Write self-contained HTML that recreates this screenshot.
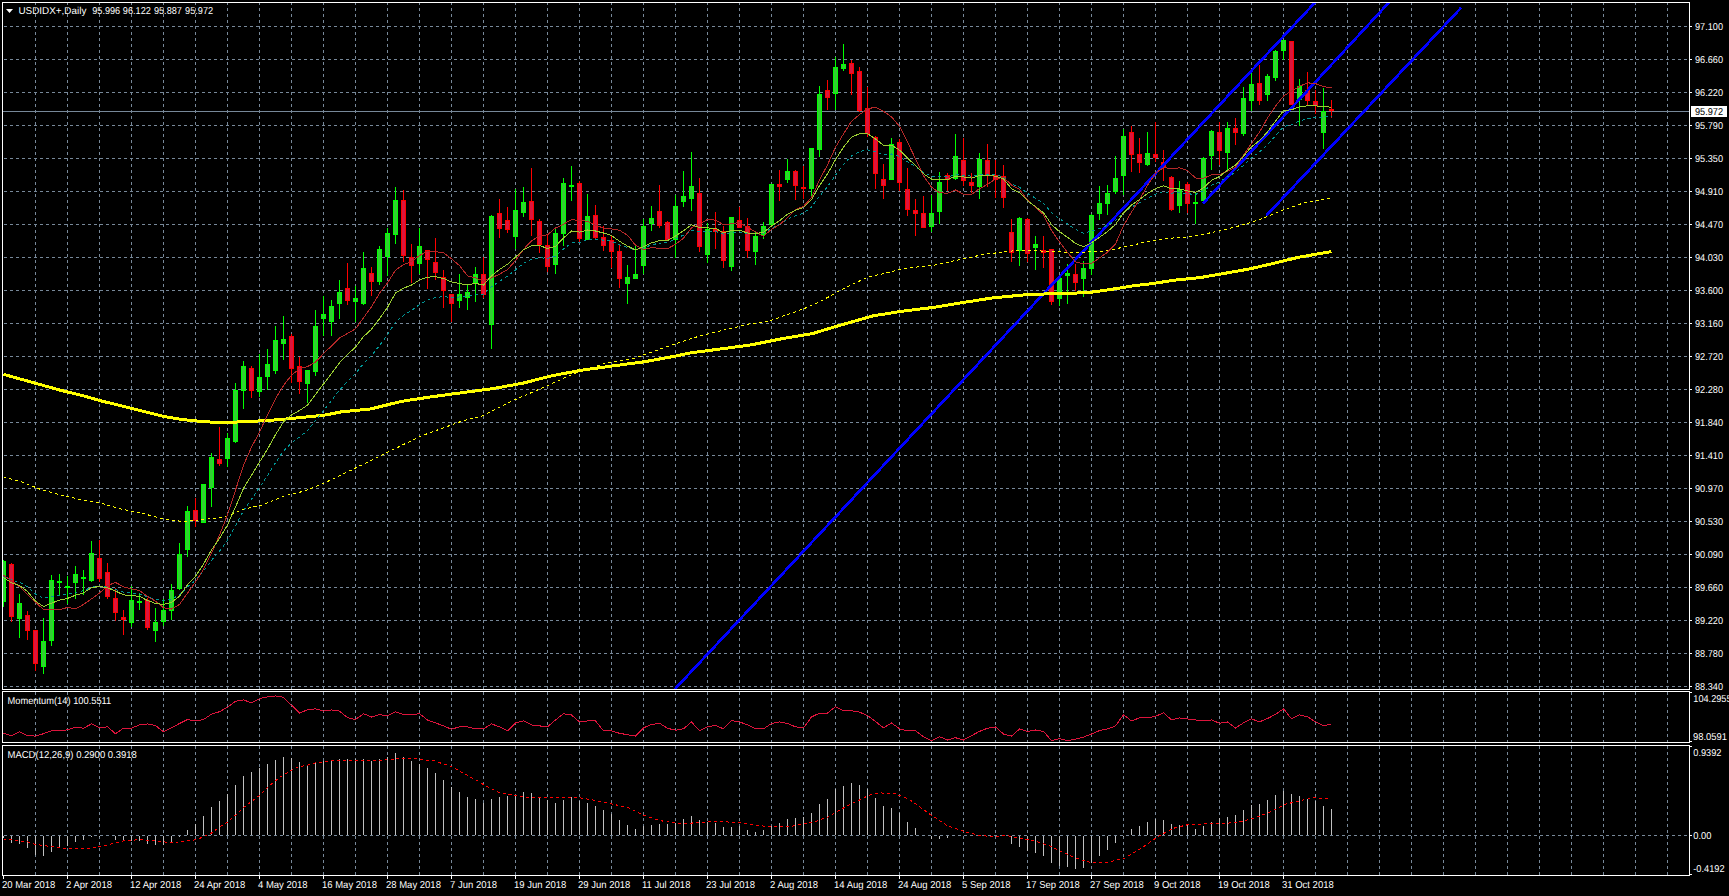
<!DOCTYPE html><html><head><meta charset="utf-8"><style>html,body{margin:0;padding:0;background:#000;width:1729px;height:896px;overflow:hidden}</style></head><body><svg width="1729" height="896" viewBox="0 0 1729 896" style="display:block">
<rect x="0" y="0" width="1729" height="896" fill="#000"/>
<path d="M4,26.5H1689 M4,59.5H1689 M4,92.5H1689 M4,125.5H1689 M4,158.5H1689 M4,191.5H1689 M4,224.5H1689 M4,257.5H1689 M4,290.5H1689 M4,323.5H1689 M4,356.5H1689 M4,389.5H1689 M4,422.5H1689 M4,455.5H1689 M4,488.5H1689 M4,521.5H1689 M4,554.5H1689 M4,587.5H1689 M4,620.5H1689 M4,653.5H1689 M4,686.5H1689 M35.5,2V689 M35.5,692V742 M35.5,746V875 M67.5,2V689 M67.5,692V742 M67.5,746V875 M99.5,2V689 M99.5,692V742 M99.5,746V875 M131.5,2V689 M131.5,692V742 M131.5,746V875 M163.5,2V689 M163.5,692V742 M163.5,746V875 M195.5,2V689 M195.5,692V742 M195.5,746V875 M227.5,2V689 M227.5,692V742 M227.5,746V875 M259.5,2V689 M259.5,692V742 M259.5,746V875 M291.5,2V689 M291.5,692V742 M291.5,746V875 M323.5,2V689 M323.5,692V742 M323.5,746V875 M355.5,2V689 M355.5,692V742 M355.5,746V875 M387.5,2V689 M387.5,692V742 M387.5,746V875 M419.5,2V689 M419.5,692V742 M419.5,746V875 M451.5,2V689 M451.5,692V742 M451.5,746V875 M483.5,2V689 M483.5,692V742 M483.5,746V875 M515.5,2V689 M515.5,692V742 M515.5,746V875 M547.5,2V689 M547.5,692V742 M547.5,746V875 M579.5,2V689 M579.5,692V742 M579.5,746V875 M611.5,2V689 M611.5,692V742 M611.5,746V875 M643.5,2V689 M643.5,692V742 M643.5,746V875 M675.5,2V689 M675.5,692V742 M675.5,746V875 M707.5,2V689 M707.5,692V742 M707.5,746V875 M739.5,2V689 M739.5,692V742 M739.5,746V875 M771.5,2V689 M771.5,692V742 M771.5,746V875 M803.5,2V689 M803.5,692V742 M803.5,746V875 M835.5,2V689 M835.5,692V742 M835.5,746V875 M867.5,2V689 M867.5,692V742 M867.5,746V875 M899.5,2V689 M899.5,692V742 M899.5,746V875 M931.5,2V689 M931.5,692V742 M931.5,746V875 M963.5,2V689 M963.5,692V742 M963.5,746V875 M995.5,2V689 M995.5,692V742 M995.5,746V875 M1027.5,2V689 M1027.5,692V742 M1027.5,746V875 M1059.5,2V689 M1059.5,692V742 M1059.5,746V875 M1091.5,2V689 M1091.5,692V742 M1091.5,746V875 M1123.5,2V689 M1123.5,692V742 M1123.5,746V875 M1155.5,2V689 M1155.5,692V742 M1155.5,746V875 M1187.5,2V689 M1187.5,692V742 M1187.5,746V875 M1219.5,2V689 M1219.5,692V742 M1219.5,746V875 M1251.5,2V689 M1251.5,692V742 M1251.5,746V875 M1283.5,2V689 M1283.5,692V742 M1283.5,746V875 M1315.5,2V689 M1315.5,692V742 M1315.5,746V875 M1347.5,2V689 M1347.5,692V742 M1347.5,746V875 M1379.5,2V689 M1379.5,692V742 M1379.5,746V875 M1411.5,2V689 M1411.5,692V742 M1411.5,746V875 M1443.5,2V689 M1443.5,692V742 M1443.5,746V875 M1475.5,2V689 M1475.5,692V742 M1475.5,746V875 M1507.5,2V689 M1507.5,692V742 M1507.5,746V875 M1539.5,2V689 M1539.5,692V742 M1539.5,746V875 M1571.5,2V689 M1571.5,692V742 M1571.5,746V875 M1603.5,2V689 M1603.5,692V742 M1603.5,746V875 M1635.5,2V689 M1635.5,692V742 M1635.5,746V875 M1667.5,2V689 M1667.5,692V742 M1667.5,746V875 M4,835.5H1689" stroke="#778899" stroke-width="1" stroke-dasharray="3 3" fill="none" shape-rendering="crispEdges"/>
<path d="M3,111.5H1689" stroke="#778899" stroke-width="1" shape-rendering="crispEdges"/>
<g clip-path="url(#clipmain)" shape-rendering="crispEdges" stroke-width="1"><path d="M3.5,560V607" stroke="#00ff00"/><rect x="1.5" y="561.5" width="4" height="40" fill="#32cd32" stroke="#00ff00"/><path d="M11.5,563V622" stroke="#ff0000"/><rect x="9.5" y="564.5" width="4" height="52" fill="#dc143c" stroke="#ff0000"/><path d="M19.5,594V638" stroke="#00ff00"/><rect x="17.5" y="603.5" width="4" height="15" fill="#32cd32" stroke="#00ff00"/><path d="M27.5,611V640" stroke="#ff0000"/><rect x="25.5" y="615.5" width="4" height="15" fill="#dc143c" stroke="#ff0000"/><path d="M35.5,630V671" stroke="#ff0000"/><rect x="33.5" y="630.5" width="4" height="33" fill="#dc143c" stroke="#ff0000"/><path d="M43.5,618V674" stroke="#00ff00"/><rect x="41.5" y="641.5" width="4" height="25" fill="#32cd32" stroke="#00ff00"/><path d="M51.5,575V646" stroke="#00ff00"/><rect x="49.5" y="580.5" width="4" height="60" fill="#32cd32" stroke="#00ff00"/><path d="M59.5,574V595" stroke="#00ff00"/><rect x="57" y="581" width="5" height="2" fill="#00ff00"/><path d="M67.5,576V604" stroke="#00ff00"/><rect x="65" y="586" width="5" height="2" fill="#00ff00"/><path d="M75.5,566V599" stroke="#00ff00"/><rect x="73.5" y="574.5" width="4" height="8" fill="#32cd32" stroke="#00ff00"/><path d="M83.5,570V595" stroke="#00ff00"/><rect x="81" y="577" width="5" height="2" fill="#00ff00"/><path d="M91.5,541V582" stroke="#00ff00"/><rect x="89.5" y="553.5" width="4" height="27" fill="#32cd32" stroke="#00ff00"/><path d="M99.5,540V582" stroke="#ff0000"/><rect x="97.5" y="558.5" width="4" height="20" fill="#dc143c" stroke="#ff0000"/><path d="M107.5,563V599" stroke="#ff0000"/><rect x="105.5" y="572.5" width="4" height="24" fill="#dc143c" stroke="#ff0000"/><path d="M115.5,588V621" stroke="#ff0000"/><rect x="113.5" y="598.5" width="4" height="14" fill="#dc143c" stroke="#ff0000"/><path d="M123.5,610V635" stroke="#ff0000"/><rect x="121.5" y="617.5" width="4" height="2" fill="#dc143c" stroke="#ff0000"/><path d="M131.5,586V627" stroke="#00ff00"/><rect x="129.5" y="600.5" width="4" height="22" fill="#32cd32" stroke="#00ff00"/><path d="M139.5,594V610" stroke="#00ff00"/><rect x="137" y="601" width="5" height="2" fill="#00ff00"/><path d="M147.5,598V630" stroke="#ff0000"/><rect x="145.5" y="600.5" width="4" height="27" fill="#dc143c" stroke="#ff0000"/><path d="M155.5,608V642" stroke="#00ff00"/><rect x="153.5" y="622.5" width="4" height="8" fill="#32cd32" stroke="#00ff00"/><path d="M163.5,599V626" stroke="#00ff00"/><rect x="161.5" y="610.5" width="4" height="11" fill="#32cd32" stroke="#00ff00"/><path d="M171.5,584V620" stroke="#00ff00"/><rect x="169.5" y="590.5" width="4" height="20" fill="#32cd32" stroke="#00ff00"/><path d="M179.5,543V590" stroke="#00ff00"/><rect x="177.5" y="554.5" width="4" height="34" fill="#32cd32" stroke="#00ff00"/><path d="M187.5,506V557" stroke="#00ff00"/><rect x="185.5" y="511.5" width="4" height="38" fill="#32cd32" stroke="#00ff00"/><path d="M195.5,498V527" stroke="#ff0000"/><rect x="193.5" y="510.5" width="4" height="10" fill="#dc143c" stroke="#ff0000"/><path d="M203.5,484V523" stroke="#00ff00"/><rect x="201.5" y="484.5" width="4" height="38" fill="#32cd32" stroke="#00ff00"/><path d="M211.5,453V507" stroke="#00ff00"/><rect x="209.5" y="457.5" width="4" height="30" fill="#32cd32" stroke="#00ff00"/><path d="M219.5,427V466" stroke="#ff0000"/><rect x="217.5" y="459.5" width="4" height="4" fill="#dc143c" stroke="#ff0000"/><path d="M227.5,433V467" stroke="#00ff00"/><rect x="225.5" y="438.5" width="4" height="20" fill="#32cd32" stroke="#00ff00"/><path d="M235.5,383V443" stroke="#00ff00"/><rect x="233.5" y="390.5" width="4" height="51" fill="#32cd32" stroke="#00ff00"/><path d="M243.5,361V409" stroke="#00ff00"/><rect x="241.5" y="366.5" width="4" height="24" fill="#32cd32" stroke="#00ff00"/><path d="M251.5,366V398" stroke="#ff0000"/><rect x="249.5" y="368.5" width="4" height="22" fill="#dc143c" stroke="#ff0000"/><path d="M259.5,354V397" stroke="#00ff00"/><rect x="257.5" y="377.5" width="4" height="14" fill="#32cd32" stroke="#00ff00"/><path d="M267.5,349V390" stroke="#00ff00"/><rect x="265.5" y="364.5" width="4" height="12" fill="#32cd32" stroke="#00ff00"/><path d="M275.5,326V374" stroke="#00ff00"/><rect x="273.5" y="340.5" width="4" height="30" fill="#32cd32" stroke="#00ff00"/><path d="M283.5,316V360" stroke="#00ff00"/><rect x="281.5" y="339.5" width="4" height="4" fill="#32cd32" stroke="#00ff00"/><path d="M291.5,334V383" stroke="#ff0000"/><rect x="289.5" y="336.5" width="4" height="32" fill="#dc143c" stroke="#ff0000"/><path d="M299.5,357V394" stroke="#ff0000"/><rect x="297.5" y="366.5" width="4" height="15" fill="#dc143c" stroke="#ff0000"/><path d="M307.5,370V403" stroke="#00ff00"/><rect x="305.5" y="370.5" width="4" height="13" fill="#32cd32" stroke="#00ff00"/><path d="M315.5,310V376" stroke="#00ff00"/><rect x="313.5" y="326.5" width="4" height="45" fill="#32cd32" stroke="#00ff00"/><path d="M323.5,296V336" stroke="#00ff00"/><rect x="321.5" y="314.5" width="4" height="4" fill="#32cd32" stroke="#00ff00"/><path d="M331.5,300V336" stroke="#00ff00"/><rect x="329.5" y="306.5" width="4" height="15" fill="#32cd32" stroke="#00ff00"/><path d="M339.5,280V319" stroke="#00ff00"/><rect x="337.5" y="292.5" width="4" height="11" fill="#32cd32" stroke="#00ff00"/><path d="M347.5,263V305" stroke="#ff0000"/><rect x="345.5" y="288.5" width="4" height="12" fill="#dc143c" stroke="#ff0000"/><path d="M355.5,286V322" stroke="#00ff00"/><rect x="353.5" y="298.5" width="4" height="3" fill="#32cd32" stroke="#00ff00"/><path d="M363.5,252V305" stroke="#00ff00"/><rect x="361.5" y="268.5" width="4" height="35" fill="#32cd32" stroke="#00ff00"/><path d="M371.5,267V296" stroke="#ff0000"/><rect x="369.5" y="273.5" width="4" height="8" fill="#dc143c" stroke="#ff0000"/><path d="M379.5,246V285" stroke="#00ff00"/><rect x="377.5" y="249.5" width="4" height="32" fill="#32cd32" stroke="#00ff00"/><path d="M387.5,228V276" stroke="#00ff00"/><rect x="385.5" y="233.5" width="4" height="23" fill="#32cd32" stroke="#00ff00"/><path d="M395.5,187V244" stroke="#00ff00"/><rect x="393.5" y="200.5" width="4" height="34" fill="#32cd32" stroke="#00ff00"/><path d="M403.5,190V262" stroke="#ff0000"/><rect x="401.5" y="200.5" width="4" height="55" fill="#dc143c" stroke="#ff0000"/><path d="M411.5,244V283" stroke="#ff0000"/><rect x="409.5" y="257.5" width="4" height="8" fill="#dc143c" stroke="#ff0000"/><path d="M419.5,228V274" stroke="#00ff00"/><rect x="417.5" y="246.5" width="4" height="17" fill="#32cd32" stroke="#00ff00"/><path d="M427.5,250V289" stroke="#ff0000"/><rect x="425.5" y="250.5" width="4" height="9" fill="#dc143c" stroke="#ff0000"/><path d="M435.5,238V280" stroke="#ff0000"/><rect x="433.5" y="262.5" width="4" height="10" fill="#dc143c" stroke="#ff0000"/><path d="M443.5,270V308" stroke="#ff0000"/><rect x="441.5" y="277.5" width="4" height="13" fill="#dc143c" stroke="#ff0000"/><path d="M451.5,294V322" stroke="#ff0000"/><rect x="449.5" y="294.5" width="4" height="9" fill="#dc143c" stroke="#ff0000"/><path d="M459.5,274V308" stroke="#00ff00"/><rect x="457.5" y="294.5" width="4" height="6" fill="#32cd32" stroke="#00ff00"/><path d="M467.5,285V310" stroke="#00ff00"/><rect x="465.5" y="292.5" width="4" height="5" fill="#32cd32" stroke="#00ff00"/><path d="M475.5,267V302" stroke="#00ff00"/><rect x="473.5" y="274.5" width="4" height="8" fill="#32cd32" stroke="#00ff00"/><path d="M483.5,257V298" stroke="#ff0000"/><rect x="481.5" y="274.5" width="4" height="20" fill="#dc143c" stroke="#ff0000"/><path d="M491.5,215V349" stroke="#00ff00"/><rect x="489.5" y="216.5" width="4" height="108" fill="#32cd32" stroke="#00ff00"/><path d="M499.5,199V238" stroke="#ff0000"/><rect x="497.5" y="213.5" width="4" height="15" fill="#dc143c" stroke="#ff0000"/><path d="M507.5,207V233" stroke="#ff0000"/><rect x="505.5" y="220.5" width="4" height="9" fill="#dc143c" stroke="#ff0000"/><path d="M515.5,189V249" stroke="#00ff00"/><rect x="513.5" y="210.5" width="4" height="26" fill="#32cd32" stroke="#00ff00"/><path d="M523.5,187V217" stroke="#00ff00"/><rect x="521.5" y="202.5" width="4" height="10" fill="#32cd32" stroke="#00ff00"/><path d="M531.5,168V236" stroke="#ff0000"/><rect x="529.5" y="201.5" width="4" height="18" fill="#dc143c" stroke="#ff0000"/><path d="M539.5,219V253" stroke="#ff0000"/><rect x="537.5" y="221.5" width="4" height="23" fill="#dc143c" stroke="#ff0000"/><path d="M547.5,234V272" stroke="#ff0000"/><rect x="545.5" y="245.5" width="4" height="21" fill="#dc143c" stroke="#ff0000"/><path d="M555.5,227V274" stroke="#00ff00"/><rect x="553.5" y="233.5" width="4" height="31" fill="#32cd32" stroke="#00ff00"/><path d="M563.5,178V246" stroke="#00ff00"/><rect x="561.5" y="183.5" width="4" height="50" fill="#32cd32" stroke="#00ff00"/><path d="M571.5,166V201" stroke="#00ff00"/><rect x="569" y="185" width="5" height="2" fill="#00ff00"/><path d="M579.5,181V243" stroke="#ff0000"/><rect x="577.5" y="183.5" width="4" height="55" fill="#dc143c" stroke="#ff0000"/><path d="M587.5,194V240" stroke="#00ff00"/><rect x="585.5" y="216.5" width="4" height="23" fill="#32cd32" stroke="#00ff00"/><path d="M595.5,205V239" stroke="#ff0000"/><rect x="593.5" y="215.5" width="4" height="22" fill="#dc143c" stroke="#ff0000"/><path d="M603.5,226V251" stroke="#ff0000"/><rect x="601.5" y="237.5" width="4" height="8" fill="#dc143c" stroke="#ff0000"/><path d="M611.5,236V268" stroke="#ff0000"/><rect x="609.5" y="240.5" width="4" height="11" fill="#dc143c" stroke="#ff0000"/><path d="M619.5,245V288" stroke="#ff0000"/><rect x="617.5" y="251.5" width="4" height="27" fill="#dc143c" stroke="#ff0000"/><path d="M627.5,265V304" stroke="#00ff00"/><rect x="625.5" y="277.5" width="4" height="6" fill="#32cd32" stroke="#00ff00"/><path d="M635.5,244V279" stroke="#00ff00"/><rect x="633.5" y="274.5" width="4" height="4" fill="#32cd32" stroke="#00ff00"/><path d="M643.5,219V274" stroke="#00ff00"/><rect x="641.5" y="226.5" width="4" height="39" fill="#32cd32" stroke="#00ff00"/><path d="M651.5,206V231" stroke="#00ff00"/><rect x="649.5" y="218.5" width="4" height="5" fill="#32cd32" stroke="#00ff00"/><path d="M659.5,185V228" stroke="#ff0000"/><rect x="657.5" y="211.5" width="4" height="14" fill="#dc143c" stroke="#ff0000"/><path d="M667.5,221V240" stroke="#ff0000"/><rect x="665.5" y="222.5" width="4" height="17" fill="#dc143c" stroke="#ff0000"/><path d="M675.5,195V258" stroke="#00ff00"/><rect x="673.5" y="206.5" width="4" height="33" fill="#32cd32" stroke="#00ff00"/><path d="M683.5,171V207" stroke="#00ff00"/><rect x="681.5" y="196.5" width="4" height="5" fill="#32cd32" stroke="#00ff00"/><path d="M691.5,152V211" stroke="#00ff00"/><rect x="689.5" y="186.5" width="4" height="12" fill="#32cd32" stroke="#00ff00"/><path d="M699.5,178V252" stroke="#ff0000"/><rect x="697.5" y="193.5" width="4" height="53" fill="#dc143c" stroke="#ff0000"/><path d="M707.5,223V263" stroke="#00ff00"/><rect x="705.5" y="229.5" width="4" height="25" fill="#32cd32" stroke="#00ff00"/><path d="M715.5,212V249" stroke="#ff0000"/><rect x="713.5" y="229.5" width="4" height="2" fill="#dc143c" stroke="#ff0000"/><path d="M723.5,226V268" stroke="#ff0000"/><rect x="721.5" y="231.5" width="4" height="29" fill="#dc143c" stroke="#ff0000"/><path d="M731.5,217V271" stroke="#00ff00"/><rect x="729.5" y="217.5" width="4" height="49" fill="#32cd32" stroke="#00ff00"/><path d="M739.5,207V228" stroke="#ff0000"/><rect x="737.5" y="220.5" width="4" height="7" fill="#dc143c" stroke="#ff0000"/><path d="M747.5,218V258" stroke="#ff0000"/><rect x="745.5" y="226.5" width="4" height="24" fill="#dc143c" stroke="#ff0000"/><path d="M755.5,232V265" stroke="#00ff00"/><rect x="753.5" y="236.5" width="4" height="15" fill="#32cd32" stroke="#00ff00"/><path d="M763.5,222V239" stroke="#00ff00"/><rect x="761.5" y="226.5" width="4" height="8" fill="#32cd32" stroke="#00ff00"/><path d="M771.5,184V227" stroke="#00ff00"/><rect x="769.5" y="184.5" width="4" height="40" fill="#32cd32" stroke="#00ff00"/><path d="M779.5,170V201" stroke="#ff0000"/><rect x="777.5" y="184.5" width="4" height="2" fill="#dc143c" stroke="#ff0000"/><path d="M787.5,159V183" stroke="#00ff00"/><rect x="785.5" y="171.5" width="4" height="8" fill="#32cd32" stroke="#00ff00"/><path d="M795.5,170V200" stroke="#ff0000"/><rect x="793.5" y="171.5" width="4" height="14" fill="#dc143c" stroke="#ff0000"/><path d="M803.5,166V199" stroke="#ff0000"/><rect x="801" y="187" width="5" height="2" fill="#ff0000"/><path d="M811.5,148V197" stroke="#00ff00"/><rect x="809.5" y="148.5" width="4" height="40" fill="#32cd32" stroke="#00ff00"/><path d="M819.5,86V157" stroke="#00ff00"/><rect x="817.5" y="94.5" width="4" height="55" fill="#32cd32" stroke="#00ff00"/><path d="M827.5,80V110" stroke="#ff0000"/><rect x="825.5" y="90.5" width="4" height="7" fill="#dc143c" stroke="#ff0000"/><path d="M835.5,57V110" stroke="#00ff00"/><rect x="833.5" y="67.5" width="4" height="26" fill="#32cd32" stroke="#00ff00"/><path d="M843.5,44V71" stroke="#00ff00"/><rect x="841.5" y="64.5" width="4" height="4" fill="#32cd32" stroke="#00ff00"/><path d="M851.5,60V95" stroke="#ff0000"/><rect x="849.5" y="63.5" width="4" height="10" fill="#dc143c" stroke="#ff0000"/><path d="M859.5,67V112" stroke="#ff0000"/><rect x="857.5" y="71.5" width="4" height="39" fill="#dc143c" stroke="#ff0000"/><path d="M867.5,87V137" stroke="#ff0000"/><rect x="865.5" y="108.5" width="4" height="25" fill="#dc143c" stroke="#ff0000"/><path d="M875.5,136V189" stroke="#ff0000"/><rect x="873.5" y="137.5" width="4" height="36" fill="#dc143c" stroke="#ff0000"/><path d="M883.5,164V199" stroke="#ff0000"/><rect x="881.5" y="179.5" width="4" height="6" fill="#dc143c" stroke="#ff0000"/><path d="M891.5,138V180" stroke="#00ff00"/><rect x="889.5" y="144.5" width="4" height="35" fill="#32cd32" stroke="#00ff00"/><path d="M899.5,139V191" stroke="#ff0000"/><rect x="897.5" y="142.5" width="4" height="40" fill="#dc143c" stroke="#ff0000"/><path d="M907.5,168V216" stroke="#ff0000"/><rect x="905.5" y="189.5" width="4" height="20" fill="#dc143c" stroke="#ff0000"/><path d="M915.5,199V236" stroke="#ff0000"/><rect x="913.5" y="210.5" width="4" height="3" fill="#dc143c" stroke="#ff0000"/><path d="M923.5,196V228" stroke="#ff0000"/><rect x="921.5" y="213.5" width="4" height="14" fill="#dc143c" stroke="#ff0000"/><path d="M931.5,195V232" stroke="#00ff00"/><rect x="929.5" y="213.5" width="4" height="13" fill="#32cd32" stroke="#00ff00"/><path d="M939.5,172V224" stroke="#00ff00"/><rect x="937.5" y="182.5" width="4" height="29" fill="#32cd32" stroke="#00ff00"/><path d="M947.5,173V191" stroke="#ff0000"/><rect x="945.5" y="175.5" width="4" height="4" fill="#dc143c" stroke="#ff0000"/><path d="M955.5,134V180" stroke="#00ff00"/><rect x="953.5" y="156.5" width="4" height="22" fill="#32cd32" stroke="#00ff00"/><path d="M963.5,138V186" stroke="#ff0000"/><rect x="961.5" y="160.5" width="4" height="20" fill="#dc143c" stroke="#ff0000"/><path d="M971.5,173V193" stroke="#ff0000"/><rect x="969.5" y="182.5" width="4" height="3" fill="#dc143c" stroke="#ff0000"/><path d="M979.5,153V199" stroke="#00ff00"/><rect x="977.5" y="159.5" width="4" height="27" fill="#32cd32" stroke="#00ff00"/><path d="M987.5,144V187" stroke="#ff0000"/><rect x="985.5" y="160.5" width="4" height="14" fill="#dc143c" stroke="#ff0000"/><path d="M995.5,160V198" stroke="#ff0000"/><rect x="993.5" y="175.5" width="4" height="4" fill="#dc143c" stroke="#ff0000"/><path d="M1003.5,165V208" stroke="#ff0000"/><rect x="1001.5" y="176.5" width="4" height="21" fill="#dc143c" stroke="#ff0000"/><path d="M1011.5,219V262" stroke="#ff0000"/><rect x="1009.5" y="232.5" width="4" height="20" fill="#dc143c" stroke="#ff0000"/><path d="M1019.5,217V266" stroke="#00ff00"/><rect x="1017.5" y="218.5" width="4" height="32" fill="#32cd32" stroke="#00ff00"/><path d="M1027.5,218V262" stroke="#ff0000"/><rect x="1025.5" y="219.5" width="4" height="34" fill="#dc143c" stroke="#ff0000"/><path d="M1035.5,236V270" stroke="#00ff00"/><rect x="1033.5" y="244.5" width="4" height="3" fill="#32cd32" stroke="#00ff00"/><path d="M1043.5,236V268" stroke="#ff0000"/><rect x="1041.5" y="250.5" width="4" height="2" fill="#dc143c" stroke="#ff0000"/><path d="M1051.5,249V305" stroke="#ff0000"/><rect x="1049.5" y="249.5" width="4" height="52" fill="#dc143c" stroke="#ff0000"/><path d="M1059.5,275V306" stroke="#00ff00"/><rect x="1057.5" y="278.5" width="4" height="20" fill="#32cd32" stroke="#00ff00"/><path d="M1067.5,264V304" stroke="#00ff00"/><rect x="1065.5" y="273.5" width="4" height="2" fill="#32cd32" stroke="#00ff00"/><path d="M1075.5,264V291" stroke="#ff0000"/><rect x="1073.5" y="274.5" width="4" height="8" fill="#dc143c" stroke="#ff0000"/><path d="M1083.5,261V297" stroke="#00ff00"/><rect x="1081.5" y="268.5" width="4" height="10" fill="#32cd32" stroke="#00ff00"/><path d="M1091.5,214V275" stroke="#00ff00"/><rect x="1089.5" y="215.5" width="4" height="53" fill="#32cd32" stroke="#00ff00"/><path d="M1099.5,186V220" stroke="#00ff00"/><rect x="1097.5" y="203.5" width="4" height="10" fill="#32cd32" stroke="#00ff00"/><path d="M1107.5,185V215" stroke="#00ff00"/><rect x="1105.5" y="193.5" width="4" height="10" fill="#32cd32" stroke="#00ff00"/><path d="M1115.5,156V194" stroke="#00ff00"/><rect x="1113.5" y="178.5" width="4" height="13" fill="#32cd32" stroke="#00ff00"/><path d="M1123.5,129V195" stroke="#00ff00"/><rect x="1121.5" y="136.5" width="4" height="39" fill="#32cd32" stroke="#00ff00"/><path d="M1131.5,126V172" stroke="#ff0000"/><rect x="1129.5" y="132.5" width="4" height="22" fill="#dc143c" stroke="#ff0000"/><path d="M1139.5,138V173" stroke="#ff0000"/><rect x="1137.5" y="154.5" width="4" height="8" fill="#dc143c" stroke="#ff0000"/><path d="M1147.5,132V166" stroke="#00ff00"/><rect x="1145.5" y="153.5" width="4" height="11" fill="#32cd32" stroke="#00ff00"/><path d="M1155.5,122V162" stroke="#ff0000"/><rect x="1153.5" y="154.5" width="4" height="3" fill="#dc143c" stroke="#ff0000"/><path d="M1163.5,150V181" stroke="#ff0000"/><rect x="1161.5" y="162.5" width="4" height="4" fill="#dc143c" stroke="#ff0000"/><path d="M1171.5,176V211" stroke="#ff0000"/><rect x="1169.5" y="177.5" width="4" height="32" fill="#dc143c" stroke="#ff0000"/><path d="M1179.5,181V213" stroke="#00ff00"/><rect x="1177.5" y="189.5" width="4" height="16" fill="#32cd32" stroke="#00ff00"/><path d="M1187.5,182V213" stroke="#ff0000"/><rect x="1185.5" y="184.5" width="4" height="19" fill="#dc143c" stroke="#ff0000"/><path d="M1195.5,192V224" stroke="#00ff00"/><rect x="1193" y="202" width="5" height="2" fill="#00ff00"/><path d="M1203.5,157V201" stroke="#00ff00"/><rect x="1201.5" y="158.5" width="4" height="42" fill="#32cd32" stroke="#00ff00"/><path d="M1211.5,130V170" stroke="#00ff00"/><rect x="1209.5" y="131.5" width="4" height="24" fill="#32cd32" stroke="#00ff00"/><path d="M1219.5,122V165" stroke="#ff0000"/><rect x="1217.5" y="132.5" width="4" height="18" fill="#dc143c" stroke="#ff0000"/><path d="M1227.5,122V170" stroke="#00ff00"/><rect x="1225.5" y="128.5" width="4" height="24" fill="#32cd32" stroke="#00ff00"/><path d="M1235.5,118V145" stroke="#ff0000"/><rect x="1233.5" y="128.5" width="4" height="4" fill="#dc143c" stroke="#ff0000"/><path d="M1243.5,87V136" stroke="#00ff00"/><rect x="1241.5" y="98.5" width="4" height="35" fill="#32cd32" stroke="#00ff00"/><path d="M1251.5,73V111" stroke="#00ff00"/><rect x="1249.5" y="84.5" width="4" height="16" fill="#32cd32" stroke="#00ff00"/><path d="M1259.5,65V105" stroke="#ff0000"/><rect x="1257.5" y="83.5" width="4" height="17" fill="#dc143c" stroke="#ff0000"/><path d="M1267.5,74V101" stroke="#00ff00"/><rect x="1265.5" y="76.5" width="4" height="18" fill="#32cd32" stroke="#00ff00"/><path d="M1275.5,50V81" stroke="#00ff00"/><rect x="1273.5" y="51.5" width="4" height="26" fill="#32cd32" stroke="#00ff00"/><path d="M1283.5,40V60" stroke="#00ff00"/><rect x="1281.5" y="40.5" width="4" height="10" fill="#32cd32" stroke="#00ff00"/><path d="M1291.5,41V105" stroke="#ff0000"/><rect x="1289.5" y="41.5" width="4" height="63" fill="#dc143c" stroke="#ff0000"/><path d="M1299.5,79V126" stroke="#00ff00"/><rect x="1297.5" y="86.5" width="4" height="13" fill="#32cd32" stroke="#00ff00"/><path d="M1307.5,72V106" stroke="#ff0000"/><rect x="1305.5" y="90.5" width="4" height="10" fill="#dc143c" stroke="#ff0000"/><path d="M1315.5,90V114" stroke="#ff0000"/><rect x="1313.5" y="101.5" width="4" height="4" fill="#dc143c" stroke="#ff0000"/><path d="M1323.5,88V149" stroke="#00ff00"/><rect x="1321.5" y="111.5" width="4" height="21" fill="#32cd32" stroke="#00ff00"/><path d="M1331.5,100V118" stroke="#ff0000"/><rect x="1329" y="109" width="5" height="2" fill="#ff0000"/></g>
<defs><clipPath id="clipmain"><rect x="3" y="3" width="1686" height="686"/></clipPath><clipPath id="clipmom"><rect x="3" y="692" width="1686" height="50"/></clipPath><clipPath id="clipmacd"><rect x="3" y="746" width="1686" height="129"/></clipPath></defs>
<g clip-path="url(#clipmain)" fill="none" shape-rendering="crispEdges">
<path d="M675,689L1314.6,3 M1203.9,202.5L1388.5,3 M1267.4,214.5L1460.4,8.5" stroke="#0000ff" stroke-width="2.7" stroke-linecap="round"/>
<polyline points="3.5,476.9 20.5,481.5 41.0,489.6 61.2,495.1 81.5,499.8 101.5,503.2 122.0,509.3 142.2,513.3 162.5,518.8 182.5,521.5 202.9,519.5 223.2,517.4 243.5,509.3 263.5,504.6 283.9,496.1 304.1,491.1 324.4,483.0 352.5,469.5 381.0,455.5 421.5,435.8 462.0,421.1 482.2,416.0 512.5,400.8 542.9,387.7 573.3,373.9 603.5,363.8 634.0,358.3 664.4,347.6 693.5,337.8 720.9,330.7 751.2,323.6 760.5,322.8 772.8,319.7 802.9,309.1 820.8,301.3 838.7,291.2 856.5,282.3 867.7,277.3 886.7,272.8 898.9,269.7 903.1,268.5 933.5,265.3 953.7,260.9 984.0,254.4 1014.5,250.7 1040.5,251.0 1070.5,252.5 1103.5,251.5 1135.5,244.5 1150.5,240.8 1175.1,237.8 1187.3,236.9 1204.5,234.1 1224.2,229.8 1243.8,224.6 1261.0,219.0 1283.1,210.1 1304.0,202.8 1331.0,197.9" stroke="#ffff00" stroke-width="1" stroke-dasharray="3 3"/>
<polyline points="3.5,374.3 20.5,379.1 41.0,384.8 61.2,390.5 81.5,395.3 101.5,401.0 122.0,406.0 142.2,411.1 162.5,416.2 182.5,419.6 202.9,421.6 223.2,422.8 243.5,421.6 263.5,420.8 283.9,419.2 304.1,417.2 324.4,415.2 340.5,412.0 370.9,408.9 401.2,401.4 431.5,396.8 462.0,392.7 492.3,388.7 522.7,383.2 553.1,375.5 583.5,369.9 613.8,365.8 644.1,361.8 674.5,356.3 690.5,352.9 720.9,348.9 751.2,344.9 781.5,338.8 812.0,333.7 842.3,324.6 872.7,315.9 903.1,311.1 933.5,307.4 963.8,302.4 994.1,297.7 1024.5,294.9 1040.5,294.1 1087.5,292.7 1110.5,289.5 1135.5,285.5 1150.5,283.8 1175.1,280.1 1199.5,277.7 1224.2,273.4 1248.7,269.1 1273.3,263.5 1297.8,257.4 1322.4,253.1 1331.5,251.6" stroke="#ffff00" stroke-width="3" stroke-linejoin="round"/>
<polyline points="3.5,576.2 11.5,580.0 19.5,582.1 27.5,586.7 35.5,594.0 43.5,598.4 51.5,596.6 59.5,595.1 67.5,594.2 75.5,592.3 83.5,590.8 91.5,587.2 99.5,586.3 107.5,587.2 115.5,589.5 123.5,592.3 131.5,593.0 139.5,593.7 147.5,596.9 155.5,599.2 163.5,600.2 171.5,599.2 179.5,594.9 187.5,586.8 195.5,580.5 203.5,571.3 211.5,560.4 219.5,551.1 227.5,540.3 235.5,525.9 243.5,510.6 251.5,499.1 259.5,487.5 267.5,475.6 275.5,462.7 283.5,450.9 291.5,443.0 299.5,437.1 307.5,430.6 315.5,420.7 323.5,410.5 331.5,400.5 339.5,390.1 347.5,381.5 355.5,373.6 363.5,363.5 371.5,355.6 379.5,345.5 387.5,334.7 395.5,321.9 403.5,315.5 411.5,310.6 419.5,304.5 427.5,300.1 435.5,297.4 443.5,296.7 451.5,297.4 459.5,297.0 467.5,296.5 475.5,294.3 483.5,294.3 491.5,286.8 499.5,281.2 507.5,276.2 515.5,269.9 523.5,263.4 531.5,259.1 539.5,257.7 547.5,258.4 555.5,256.0 563.5,249.0 571.5,242.9 579.5,242.4 587.5,239.9 595.5,239.6 603.5,240.1 611.5,241.2 619.5,244.7 627.5,247.7 635.5,250.2 643.5,247.8 651.5,244.9 659.5,243.1 667.5,242.7 675.5,239.1 683.5,235.0 691.5,230.2 699.5,231.7 707.5,231.4 715.5,231.4 723.5,234.1 731.5,232.4 739.5,231.9 747.5,233.6 755.5,233.8 763.5,233.0 771.5,228.3 779.5,224.2 787.5,219.1 795.5,215.8 803.5,213.2 811.5,206.9 819.5,196.1 827.5,186.7 835.5,175.3 843.5,164.6 851.5,155.9 859.5,151.5 867.5,149.8 875.5,151.9 883.5,155.1 891.5,154.0 899.5,156.6 907.5,161.6 915.5,166.5 923.5,172.3 931.5,176.1 939.5,176.6 947.5,176.8 955.5,174.8 963.5,175.3 971.5,176.2 979.5,174.5 987.5,174.5 995.5,174.9 1003.5,176.9 1011.5,184.1 1019.5,187.2 1027.5,193.4 1035.5,198.2 1043.5,203.3 1051.5,212.6 1059.5,218.8 1067.5,223.9 1075.5,229.5 1083.5,233.1 1091.5,231.3 1099.5,228.6 1107.5,225.2 1115.5,220.7 1123.5,212.7 1131.5,207.1 1139.5,202.8 1147.5,198.1 1155.5,194.2 1163.5,191.5 1171.5,193.1 1179.5,192.7 1187.5,193.7 1195.5,194.5 1203.5,190.9 1211.5,185.2 1219.5,181.8 1227.5,176.7 1235.5,172.4 1243.5,165.3 1251.5,157.6 1259.5,152.1 1267.5,144.8 1275.5,135.8 1283.5,126.7 1291.5,124.6 1299.5,120.9 1307.5,118.9 1315.5,117.6 1323.5,116.9 1331.5,116.3" stroke="#009696" stroke-width="1" stroke-dasharray="3 3"/>
<polyline points="3.5,575.2 11.5,580.7 19.5,586.7 27.5,594.4 35.5,602.2 43.5,609.5 51.5,609.3 59.5,609.9 67.5,607.4 75.5,608.8 83.5,604.5 91.5,598.9 99.5,593.1 107.5,585.6 115.5,582.4 123.5,586.8 131.5,588.9 139.5,590.5 147.5,596.4 155.5,601.3 163.5,607.7 171.5,609.0 179.5,604.4 187.5,593.1 195.5,582.2 203.5,569.3 211.5,553.3 219.5,535.1 227.5,514.7 235.5,490.2 243.5,465.3 251.5,447.1 259.5,432.2 267.5,414.8 275.5,398.8 283.5,385.6 291.5,375.1 299.5,368.8 307.5,366.6 315.5,362.2 323.5,353.7 331.5,345.9 339.5,337.9 347.5,333.5 355.5,328.9 363.5,317.8 371.5,306.7 379.5,293.3 387.5,282.9 395.5,270.2 403.5,264.6 411.5,261.6 419.5,255.6 427.5,251.3 435.5,251.7 443.5,252.7 451.5,258.8 459.5,265.6 467.5,275.8 475.5,277.9 483.5,281.1 491.5,277.8 499.5,274.3 507.5,269.5 515.5,260.6 523.5,249.3 531.5,241.0 539.5,235.7 547.5,234.8 555.5,228.0 563.5,224.3 571.5,219.5 579.5,220.6 587.5,221.2 595.5,225.2 603.5,228.1 611.5,228.9 619.5,230.3 627.5,235.2 635.5,245.2 643.5,249.7 651.5,247.5 659.5,248.5 667.5,248.7 675.5,244.3 683.5,238.2 691.5,227.8 699.5,224.4 707.5,219.4 715.5,220.1 723.5,224.8 731.5,223.8 739.5,222.5 747.5,227.4 755.5,231.8 763.5,236.3 771.5,229.4 779.5,224.6 787.5,217.8 795.5,209.5 803.5,206.3 811.5,197.5 819.5,180.1 827.5,164.8 835.5,147.2 843.5,133.9 851.5,121.3 859.5,114.6 867.5,108.9 875.5,107.1 883.5,111.3 891.5,116.9 899.5,126.3 907.5,142.1 915.5,158.7 923.5,175.8 931.5,187.2 939.5,192.6 947.5,193.3 955.5,190.0 963.5,194.1 971.5,194.4 979.5,188.7 987.5,184.4 995.5,179.1 1003.5,177.3 1011.5,185.1 1019.5,189.3 1027.5,200.1 1035.5,207.2 1043.5,214.7 1051.5,230.5 1059.5,242.0 1067.5,252.4 1075.5,261.9 1083.5,263.7 1091.5,263.4 1099.5,257.9 1107.5,252.2 1115.5,244.0 1123.5,225.7 1131.5,212.0 1139.5,199.7 1147.5,185.4 1155.5,173.1 1163.5,167.7 1171.5,168.4 1179.5,167.9 1187.5,170.6 1195.5,178.0 1203.5,178.3 1211.5,174.9 1219.5,174.5 1227.5,171.3 1235.5,167.4 1243.5,155.1 1251.5,143.5 1259.5,132.1 1267.5,118.0 1275.5,106.2 1283.5,96.1 1291.5,91.0 1299.5,86.4 1307.5,82.8 1315.5,83.6 1323.5,86.6 1331.5,87.7" stroke="#b42828" stroke-width="1"/>
<polyline points="3.5,577.5 11.5,582.8 19.5,585.5 27.5,591.5 35.5,601.2 43.5,606.5 51.5,603.1 59.5,600.2 67.5,598.4 75.5,595.2 83.5,592.9 91.5,587.6 99.5,586.4 107.5,587.7 115.5,591.1 123.5,594.9 131.5,595.6 139.5,596.4 147.5,600.5 155.5,603.4 163.5,604.4 171.5,602.5 179.5,596.1 187.5,584.8 195.5,576.3 203.5,564.1 211.5,549.9 219.5,538.4 227.5,525.1 235.5,507.0 243.5,488.3 251.5,475.3 259.5,462.2 267.5,449.2 275.5,434.7 283.5,421.9 291.5,414.9 299.5,410.5 307.5,405.1 315.5,394.6 323.5,384.0 331.5,373.6 339.5,362.8 347.5,354.5 355.5,347.1 363.5,336.6 371.5,329.3 379.5,318.7 387.5,307.3 395.5,293.1 403.5,288.1 411.5,285.1 419.5,279.9 427.5,277.2 435.5,276.6 443.5,278.5 451.5,281.9 459.5,283.6 467.5,284.8 475.5,283.4 483.5,285.0 491.5,275.8 499.5,269.5 507.5,264.2 515.5,257.0 523.5,249.8 531.5,245.7 539.5,245.6 547.5,248.4 555.5,246.4 563.5,238.0 571.5,231.0 579.5,232.1 587.5,230.0 595.5,231.0 603.5,233.0 611.5,235.5 619.5,241.3 627.5,246.1 635.5,249.9 643.5,246.7 651.5,242.9 659.5,240.7 667.5,240.6 675.5,236.0 683.5,230.7 691.5,224.7 699.5,227.6 707.5,227.9 715.5,228.4 723.5,232.7 731.5,230.7 739.5,230.3 747.5,233.0 755.5,233.4 763.5,232.4 771.5,226.0 779.5,220.7 787.5,214.1 795.5,210.3 803.5,207.5 811.5,199.6 819.5,185.6 827.5,173.9 835.5,159.7 843.5,147.0 851.5,137.2 859.5,133.7 867.5,133.7 875.5,139.0 883.5,145.2 891.5,145.1 899.5,150.1 907.5,158.1 915.5,165.5 923.5,173.8 931.5,179.1 939.5,179.5 947.5,179.5 955.5,176.4 963.5,177.0 971.5,178.1 979.5,175.6 987.5,175.5 995.5,176.1 1003.5,178.9 1011.5,188.7 1019.5,192.6 1027.5,200.7 1035.5,206.6 1043.5,212.7 1051.5,224.5 1059.5,231.7 1067.5,237.3 1075.5,243.4 1083.5,246.7 1091.5,242.6 1099.5,237.3 1107.5,231.5 1115.5,224.5 1123.5,212.8 1131.5,205.1 1139.5,199.5 1147.5,193.4 1155.5,188.7 1163.5,185.7 1171.5,188.9 1179.5,189.0 1187.5,190.9 1195.5,192.5 1203.5,187.9 1211.5,180.4 1219.5,176.5 1227.5,170.1 1235.5,165.1 1243.5,156.2 1251.5,146.7 1259.5,140.6 1267.5,132.0 1275.5,121.3 1283.5,110.6 1291.5,109.8 1299.5,106.7 1307.5,105.9 1315.5,105.9 1323.5,106.6 1331.5,107.2" stroke="#9acd32" stroke-width="1"/>
</g>
<g clip-path="url(#clipmom)"><polyline points="3.5,733.3 11.5,735.7 19.5,731.8 27.5,735.7 35.5,736.1 43.5,733.7 51.5,730.8 59.5,730.8 67.5,729.8 75.5,727.2 83.5,728.2 91.5,723.9 99.5,727.8 107.5,726.8 115.5,733.7 123.5,728.2 131.5,728.2 139.5,724.9 147.5,723.9 155.5,725.5 163.5,731.8 171.5,727.8 179.5,723.5 187.5,719.5 195.5,720.9 203.5,719.5 211.5,714.1 219.5,711.7 227.5,707.2 235.5,701.3 243.5,699.9 251.5,702.9 259.5,698.7 267.5,696.8 275.5,696.0 283.5,697.3 291.5,705.2 299.5,713.1 307.5,709.7 315.5,708.8 323.5,711.1 331.5,709.9 339.5,711.1 347.5,717.6 355.5,719.6 363.5,713.7 371.5,717.0 379.5,714.7 387.5,715.6 395.5,711.7 403.5,714.7 411.5,714.7 419.5,713.7 427.5,720.0 435.5,722.9 443.5,725.9 451.5,729.2 459.5,726.8 467.5,726.8 475.5,728.8 483.5,728.8 491.5,723.9 499.5,726.8 507.5,730.8 515.5,722.9 523.5,720.9 531.5,724.9 539.5,725.9 547.5,726.8 555.5,720.0 563.5,713.7 571.5,715.0 579.5,721.9 587.5,720.9 595.5,720.9 603.5,730.8 611.5,730.8 619.5,733.3 627.5,734.7 635.5,736.1 643.5,727.8 651.5,724.5 659.5,723.2 667.5,728.3 675.5,730.2 683.5,728.8 691.5,721.9 699.5,730.8 707.5,726.8 715.5,725.5 723.5,728.8 731.5,720.5 739.5,721.9 747.5,724.9 755.5,728.8 763.5,728.8 771.5,723.5 779.5,721.9 787.5,723.5 795.5,726.8 803.5,727.8 811.5,717.0 819.5,713.1 827.5,713.1 835.5,706.6 843.5,710.7 851.5,710.7 859.5,712.1 867.5,715.6 875.5,721.5 883.5,727.8 891.5,722.9 899.5,728.8 907.5,730.8 915.5,730.8 923.5,736.7 931.5,740.6 939.5,736.7 947.5,740.0 955.5,737.7 963.5,740.0 971.5,735.7 979.5,731.4 987.5,728.2 995.5,726.9 1003.5,734.0 1011.5,736.1 1019.5,729.0 1027.5,731.4 1035.5,730.0 1043.5,731.4 1051.5,740.7 1059.5,738.7 1067.5,740.7 1075.5,739.1 1083.5,737.1 1091.5,734.0 1099.5,730.6 1107.5,729.0 1115.5,725.9 1123.5,714.8 1131.5,720.9 1139.5,717.9 1147.5,717.9 1155.5,716.4 1163.5,712.8 1171.5,719.9 1179.5,717.9 1187.5,718.9 1195.5,719.9 1203.5,720.9 1211.5,719.9 1219.5,723.3 1227.5,721.9 1235.5,728.0 1243.5,722.9 1251.5,718.9 1259.5,721.9 1267.5,718.5 1275.5,714.4 1283.5,708.7 1291.5,718.9 1299.5,714.8 1307.5,716.8 1315.5,721.9 1323.5,725.9 1331.5,723.9" stroke="#dc143c" stroke-width="1" fill="none" shape-rendering="crispEdges"/></g>
<g clip-path="url(#clipmacd)"><path d="M3.5,836V838 M11.5,836V843 M19.5,836V844 M27.5,836V848 M35.5,836V855 M43.5,836V856 M51.5,836V852 M59.5,836V848 M67.5,836V846 M75.5,836V842 M83.5,836V840 M91.5,836V837 M99.5,836V837 M115.5,836V840 M123.5,836V841 M131.5,836V841 M139.5,836V841 M147.5,836V844 M155.5,836V845 M163.5,836V845 M171.5,836V843 M179.5,836V837 M187.5,830V835 M195.5,824V835 M203.5,816V835 M211.5,807V835 M219.5,801V835 M227.5,794V835 M235.5,785V835 M243.5,776V835 M251.5,772V835 M259.5,768V835 M267.5,764V835 M275.5,760V835 M283.5,757V835 M291.5,758V835 M299.5,762V835 M307.5,765V835 M315.5,762V835 M323.5,761V835 M331.5,760V835 M339.5,759V835 M347.5,759V835 M355.5,759V835 M363.5,759V835 M371.5,761V835 M379.5,759V835 M387.5,757V835 M395.5,753V835 M403.5,757V835 M411.5,761V835 M419.5,764V835 M427.5,768V835 M435.5,773V835 M443.5,780V835 M451.5,787V835 M459.5,792V835 M467.5,797V835 M475.5,799V835 M483.5,803V835 M491.5,799V835 M499.5,797V835 M507.5,796V835 M515.5,795V835 M523.5,792V835 M531.5,793V835 M539.5,797V835 M547.5,800V835 M555.5,803V835 M563.5,800V835 M571.5,797V835 M579.5,801V835 M587.5,803V835 M595.5,806V835 M603.5,810V835 M611.5,814V835 M619.5,820V835 M627.5,825V835 M635.5,829V835 M643.5,826V835 M651.5,825V835 M659.5,824V835 M667.5,824V835 M675.5,823V835 M683.5,819V835 M691.5,816V835 M699.5,820V835 M707.5,822V835 M715.5,823V835 M723.5,827V835 M731.5,827V835 M739.5,826V835 M747.5,830V835 M755.5,832V835 M763.5,830V835 M771.5,826V835 M779.5,823V835 M787.5,819V835 M795.5,818V835 M803.5,817V835 M811.5,813V835 M819.5,804V835 M827.5,799V835 M835.5,789V835 M843.5,786V835 M851.5,783V835 M859.5,785V835 M867.5,789V835 M875.5,798V835 M883.5,806V835 M891.5,808V835 M899.5,813V835 M907.5,822V835 M915.5,828V835 M931.5,836V839 M939.5,836V839 M947.5,836V838 M1011.5,836V844 M1019.5,836V847 M1027.5,836V851 M1035.5,836V853 M1043.5,836V856 M1051.5,836V863 M1059.5,836V866 M1067.5,836V867 M1075.5,836V869 M1083.5,836V868 M1091.5,836V863 M1099.5,836V856 M1107.5,836V850 M1115.5,836V843 M1123.5,836V837 M1131.5,829V835 M1139.5,826V835 M1147.5,822V835 M1155.5,819V835 M1163.5,820V835 M1171.5,824V835 M1179.5,825V835 M1187.5,824V835 M1195.5,829V835 M1203.5,826V835 M1211.5,822V835 M1219.5,818V835 M1227.5,817V835 M1235.5,815V835 M1243.5,810V835 M1251.5,805V835 M1259.5,804V835 M1267.5,800V835 M1275.5,795V835 M1283.5,791V835 M1291.5,794V835 M1299.5,796V835 M1307.5,799V835 M1315.5,801V835 M1323.5,806V835 M1331.5,809V835" stroke="#c0c0c0" stroke-width="1" shape-rendering="crispEdges"/>
<polyline points="3.5,838.9 19.5,840.8 27.5,841.8 35.5,844.4 51.5,846.7 67.5,848.7 83.5,848.7 94.5,847.7 107.5,844.8 123.5,840.8 139.5,839.7 155.5,840.8 171.5,842.8 195.5,839.8 203.5,836.9 211.5,833.0 219.5,827.1 227.5,822.1 235.5,815.3 243.5,807.4 251.5,801.5 259.5,795.6 267.5,787.3 280.5,776.7 292.1,769.8 299.0,766.9 307.1,765.2 315.2,762.9 324.5,761.7 331.4,760.8 349.9,760.8 373.0,760.8 384.6,760.0 396.2,758.8 402.0,758.0 419.3,759.1 425.1,760.0 435.5,761.1 442.5,763.8 449.4,765.7 454.0,768.1 461.0,771.9 466.7,775.0 472.5,778.5 479.5,781.9 483.5,784.8 499.5,792.6 515.5,795.6 527.5,797.2 546.5,797.2 576.5,797.2 595.5,800.5 611.5,803.9 627.5,807.4 643.5,815.3 658.5,820.2 663.5,821.2 681.7,823.9 707.1,821.8 736.0,822.1 754.5,824.7 761.5,825.9 773.0,826.8 790.4,826.8 796.2,825.3 803.1,823.9 814.7,821.8 820.5,819.5 827.4,817.2 833.2,813.7 839.0,810.3 844.8,807.4 851.7,803.3 857.5,801.0 863.3,798.1 869.0,795.2 874.8,793.9 880.5,792.9 895.5,793.9 899.0,795.2 905.4,797.5 911.2,800.8 916.9,804.5 922.7,809.1 929.1,813.7 934.9,817.5 940.7,821.3 946.4,825.1 952.8,827.6 959.2,829.9 964.9,831.7 971.3,833.4 977.1,834.8 982.3,835.7 995.0,836.9 1000.8,835.7 1007.2,835.7 1012.9,836.9 1018.7,838.0 1025.1,839.0 1030.9,840.4 1036.7,841.7 1043.6,843.8 1047.6,845.0 1059.5,850.8 1075.5,857.9 1091.5,862.9 1107.5,862.3 1124.5,858.3 1140.5,848.8 1156.5,837.6 1172.5,828.5 1188.5,824.5 1205.5,823.9 1221.5,823.5 1237.5,822.5 1253.5,818.4 1269.5,812.3 1285.5,804.2 1302.5,800.2 1314.5,797.6 1331.5,799.2" stroke="#ff0000" stroke-width="1" fill="none" stroke-dasharray="3 3" shape-rendering="crispEdges"/></g>
<g fill="none" stroke="#ffffff" stroke-width="1" shape-rendering="crispEdges">
<rect x="2.5" y="2.5" width="1687" height="687"/>
<rect x="2.5" y="691.5" width="1687" height="51"/>
<rect x="2.5" y="745.5" width="1687" height="130"/>
<path d="M1690,26.5H1692 M1690,59.5H1692 M1690,92.5H1692 M1690,125.5H1692 M1690,158.5H1692 M1690,191.5H1692 M1690,224.5H1692 M1690,257.5H1692 M1690,290.5H1692 M1690,323.5H1692 M1690,356.5H1692 M1690,389.5H1692 M1690,422.5H1692 M1690,455.5H1692 M1690,488.5H1692 M1690,521.5H1692 M1690,554.5H1692 M1690,587.5H1692 M1690,620.5H1692 M1690,653.5H1692 M1690,686.5H1692 M1690,692.5H1692 M1690,741.5H1692 M1690,746.5H1692 M1690,835.5H1692 M1690,874.5H1692 M3.5,876V879 M67.5,876V879 M131.5,876V879 M195.5,876V879 M259.5,876V879 M323.5,876V879 M387.5,876V879 M451.5,876V879 M515.5,876V879 M579.5,876V879 M643.5,876V879 M707.5,876V879 M771.5,876V879 M835.5,876V879 M899.5,876V879 M963.5,876V879 M1027.5,876V879 M1091.5,876V879 M1155.5,876V879 M1219.5,876V879 M1283.5,876V879"/>
</g>
<rect x="1691" y="106" width="36" height="11" fill="#ffffff"/>
<text transform="translate(1695,30) scale(0.916,1)" font-family="Liberation Sans, sans-serif" text-rendering="geometricPrecision" font-size="10" fill="#fff">97.100</text>
<text transform="translate(1695,63) scale(0.916,1)" font-family="Liberation Sans, sans-serif" text-rendering="geometricPrecision" font-size="10" fill="#fff">96.660</text>
<text transform="translate(1695,96) scale(0.916,1)" font-family="Liberation Sans, sans-serif" text-rendering="geometricPrecision" font-size="10" fill="#fff">96.220</text>
<text transform="translate(1695,129) scale(0.916,1)" font-family="Liberation Sans, sans-serif" text-rendering="geometricPrecision" font-size="10" fill="#fff">95.790</text>
<text transform="translate(1695,162) scale(0.916,1)" font-family="Liberation Sans, sans-serif" text-rendering="geometricPrecision" font-size="10" fill="#fff">95.350</text>
<text transform="translate(1695,195) scale(0.916,1)" font-family="Liberation Sans, sans-serif" text-rendering="geometricPrecision" font-size="10" fill="#fff">94.910</text>
<text transform="translate(1695,228) scale(0.916,1)" font-family="Liberation Sans, sans-serif" text-rendering="geometricPrecision" font-size="10" fill="#fff">94.470</text>
<text transform="translate(1695,261) scale(0.916,1)" font-family="Liberation Sans, sans-serif" text-rendering="geometricPrecision" font-size="10" fill="#fff">94.030</text>
<text transform="translate(1695,294) scale(0.916,1)" font-family="Liberation Sans, sans-serif" text-rendering="geometricPrecision" font-size="10" fill="#fff">93.600</text>
<text transform="translate(1695,327) scale(0.916,1)" font-family="Liberation Sans, sans-serif" text-rendering="geometricPrecision" font-size="10" fill="#fff">93.160</text>
<text transform="translate(1695,360) scale(0.916,1)" font-family="Liberation Sans, sans-serif" text-rendering="geometricPrecision" font-size="10" fill="#fff">92.720</text>
<text transform="translate(1695,393) scale(0.916,1)" font-family="Liberation Sans, sans-serif" text-rendering="geometricPrecision" font-size="10" fill="#fff">92.280</text>
<text transform="translate(1695,426) scale(0.916,1)" font-family="Liberation Sans, sans-serif" text-rendering="geometricPrecision" font-size="10" fill="#fff">91.840</text>
<text transform="translate(1695,459) scale(0.916,1)" font-family="Liberation Sans, sans-serif" text-rendering="geometricPrecision" font-size="10" fill="#fff">91.410</text>
<text transform="translate(1695,492) scale(0.916,1)" font-family="Liberation Sans, sans-serif" text-rendering="geometricPrecision" font-size="10" fill="#fff">90.970</text>
<text transform="translate(1695,525) scale(0.916,1)" font-family="Liberation Sans, sans-serif" text-rendering="geometricPrecision" font-size="10" fill="#fff">90.530</text>
<text transform="translate(1695,558) scale(0.916,1)" font-family="Liberation Sans, sans-serif" text-rendering="geometricPrecision" font-size="10" fill="#fff">90.090</text>
<text transform="translate(1695,591) scale(0.916,1)" font-family="Liberation Sans, sans-serif" text-rendering="geometricPrecision" font-size="10" fill="#fff">89.660</text>
<text transform="translate(1695,624) scale(0.916,1)" font-family="Liberation Sans, sans-serif" text-rendering="geometricPrecision" font-size="10" fill="#fff">89.220</text>
<text transform="translate(1695,657) scale(0.916,1)" font-family="Liberation Sans, sans-serif" text-rendering="geometricPrecision" font-size="10" fill="#fff">88.780</text>
<text transform="translate(1695,690) scale(0.916,1)" font-family="Liberation Sans, sans-serif" text-rendering="geometricPrecision" font-size="10" fill="#fff">88.340</text>
<text transform="translate(1695,115) scale(0.916,1)" font-family="Liberation Sans, sans-serif" text-rendering="geometricPrecision" font-size="10" fill="#000">95.972</text>
<text transform="translate(1693.3,702) scale(0.916,1)" font-family="Liberation Sans, sans-serif" text-rendering="geometricPrecision" font-size="10" fill="#fff">104.2955</text>
<text transform="translate(1693.0,740) scale(0.94,1)" font-family="Liberation Sans, sans-serif" text-rendering="geometricPrecision" font-size="10" fill="#fff">98.0591</text>
<text transform="translate(1693.3,756) scale(0.92,1)" font-family="Liberation Sans, sans-serif" text-rendering="geometricPrecision" font-size="10" fill="#fff">0.9392</text>
<text transform="translate(1693.3,839) scale(0.93,1)" font-family="Liberation Sans, sans-serif" text-rendering="geometricPrecision" font-size="10" fill="#fff">0.00</text>
<text transform="translate(1693.3,872) scale(0.92,1)" font-family="Liberation Sans, sans-serif" text-rendering="geometricPrecision" font-size="10" fill="#fff">-0.4192</text>
<text transform="translate(2,888) scale(0.95,1)" font-family="Liberation Sans, sans-serif" text-rendering="geometricPrecision" font-size="10" fill="#fff">20 Mar 2018</text>
<text transform="translate(66,888) scale(0.95,1)" font-family="Liberation Sans, sans-serif" text-rendering="geometricPrecision" font-size="10" fill="#fff">2 Apr 2018</text>
<text transform="translate(130,888) scale(0.95,1)" font-family="Liberation Sans, sans-serif" text-rendering="geometricPrecision" font-size="10" fill="#fff">12 Apr 2018</text>
<text transform="translate(194,888) scale(0.95,1)" font-family="Liberation Sans, sans-serif" text-rendering="geometricPrecision" font-size="10" fill="#fff">24 Apr 2018</text>
<text transform="translate(258,888) scale(0.95,1)" font-family="Liberation Sans, sans-serif" text-rendering="geometricPrecision" font-size="10" fill="#fff">4 May 2018</text>
<text transform="translate(322,888) scale(0.95,1)" font-family="Liberation Sans, sans-serif" text-rendering="geometricPrecision" font-size="10" fill="#fff">16 May 2018</text>
<text transform="translate(386,888) scale(0.95,1)" font-family="Liberation Sans, sans-serif" text-rendering="geometricPrecision" font-size="10" fill="#fff">28 May 2018</text>
<text transform="translate(450,888) scale(0.95,1)" font-family="Liberation Sans, sans-serif" text-rendering="geometricPrecision" font-size="10" fill="#fff">7 Jun 2018</text>
<text transform="translate(514,888) scale(0.95,1)" font-family="Liberation Sans, sans-serif" text-rendering="geometricPrecision" font-size="10" fill="#fff">19 Jun 2018</text>
<text transform="translate(578,888) scale(0.95,1)" font-family="Liberation Sans, sans-serif" text-rendering="geometricPrecision" font-size="10" fill="#fff">29 Jun 2018</text>
<text transform="translate(642,888) scale(0.95,1)" font-family="Liberation Sans, sans-serif" text-rendering="geometricPrecision" font-size="10" fill="#fff">11 Jul 2018</text>
<text transform="translate(706,888) scale(0.95,1)" font-family="Liberation Sans, sans-serif" text-rendering="geometricPrecision" font-size="10" fill="#fff">23 Jul 2018</text>
<text transform="translate(770,888) scale(0.95,1)" font-family="Liberation Sans, sans-serif" text-rendering="geometricPrecision" font-size="10" fill="#fff">2 Aug 2018</text>
<text transform="translate(834,888) scale(0.95,1)" font-family="Liberation Sans, sans-serif" text-rendering="geometricPrecision" font-size="10" fill="#fff">14 Aug 2018</text>
<text transform="translate(898,888) scale(0.95,1)" font-family="Liberation Sans, sans-serif" text-rendering="geometricPrecision" font-size="10" fill="#fff">24 Aug 2018</text>
<text transform="translate(962,888) scale(0.95,1)" font-family="Liberation Sans, sans-serif" text-rendering="geometricPrecision" font-size="10" fill="#fff">5 Sep 2018</text>
<text transform="translate(1026,888) scale(0.95,1)" font-family="Liberation Sans, sans-serif" text-rendering="geometricPrecision" font-size="10" fill="#fff">17 Sep 2018</text>
<text transform="translate(1090,888) scale(0.95,1)" font-family="Liberation Sans, sans-serif" text-rendering="geometricPrecision" font-size="10" fill="#fff">27 Sep 2018</text>
<text transform="translate(1154,888) scale(0.95,1)" font-family="Liberation Sans, sans-serif" text-rendering="geometricPrecision" font-size="10" fill="#fff">9 Oct 2018</text>
<text transform="translate(1218,888) scale(0.95,1)" font-family="Liberation Sans, sans-serif" text-rendering="geometricPrecision" font-size="10" fill="#fff">19 Oct 2018</text>
<text transform="translate(1282,888) scale(0.95,1)" font-family="Liberation Sans, sans-serif" text-rendering="geometricPrecision" font-size="10" fill="#fff">31 Oct 2018</text>
<path d="M6,9H13L9.5,13Z" fill="#fff"/>
<text transform="translate(18.4,14) scale(0.99,1)" font-family="Liberation Sans, sans-serif" text-rendering="geometricPrecision" font-size="10" fill="#fff">USDIDX+,Daily</text>
<text transform="translate(92.2,14) scale(0.916,1)" font-family="Liberation Sans, sans-serif" text-rendering="geometricPrecision" font-size="10" fill="#fff">95.996</text>
<text transform="translate(122.8,14) scale(0.916,1)" font-family="Liberation Sans, sans-serif" text-rendering="geometricPrecision" font-size="10" fill="#fff">96.122</text>
<text transform="translate(153.9,14) scale(0.916,1)" font-family="Liberation Sans, sans-serif" text-rendering="geometricPrecision" font-size="10" fill="#fff">95.887</text>
<text transform="translate(185.1,14) scale(0.916,1)" font-family="Liberation Sans, sans-serif" text-rendering="geometricPrecision" font-size="10" fill="#fff">95.972</text>
<text transform="translate(7.5,704) scale(0.93,1)" font-family="Liberation Sans, sans-serif" text-rendering="geometricPrecision" font-size="10" fill="#fff">Momentum(14) 100.5511</text>
<text transform="translate(7.5,758) scale(0.95,1)" font-family="Liberation Sans, sans-serif" text-rendering="geometricPrecision" font-size="10" fill="#fff">MACD(12,26,9) 0.2900 0.3918</text>
</svg></body></html>
